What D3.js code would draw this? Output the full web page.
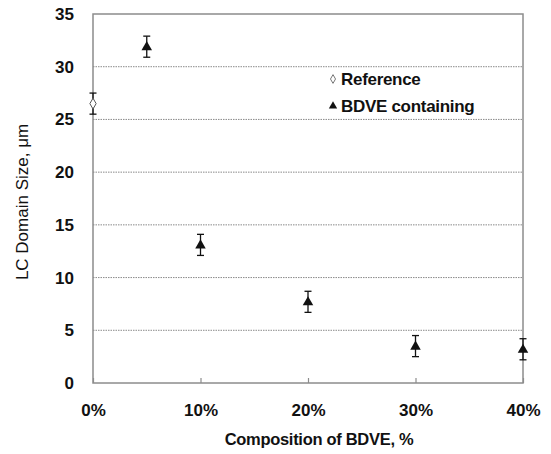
<!DOCTYPE html>
<html>
  <head>
    <meta charset="utf-8">
    <title>LC domain size vs BDVE composition</title>
    <script src="https://d3js.org/d3.v7.min.js"></script>
    <style>
      body { margin: 0; background: #fff; }
      svg { font-family: "Liberation Sans", Arial, sans-serif; }
      .tickLabel { font-size: 17px; font-weight: bold; fill: #111; }
      .axisTitle { font-size: 17px; fill: #111; }
      .legendLabel { font-size: 17px; font-weight: bold; fill: #111; letter-spacing: -0.3px; }
    </style>
  </head>
  <body>
    <svg id="chart" width="551" height="454"></svg>
    <script>
      // data
      var xTicks = [0, 10, 20, 30, 40];
      var yTicks = [0, 5, 10, 15, 20, 25, 30, 35];
      var refComp = [0];
      var refSize = [26.5];
      var refErr = [1.0];
      var bdveComp = [5, 10, 20, 30, 40];
      var bdveSize = [31.9, 13.1, 7.7, 3.5, 3.2];
      var bdveErr = [1.0, 1.0, 1.0, 1.0, 1.0];

      var margin = { top: 14, right: 28, bottom: 71, left: 93 };
      var width = 551, height = 454;
      var chart = d3.select("#chart");

      var x = d3.scaleLinear()
        .domain([0, 40])
        .range([margin.left, width - margin.right]);
      var y = d3.scaleLinear()
        .domain([0, 35])
        .range([height - margin.bottom, margin.top]);

      // gridlines
      chart.append("g")
        .selectAll("line")
        .data(yTicks.filter(function(d) { return d > 0 && d < 35; }))
        .enter().append("line")
          .attr("x1", x(0))
          .attr("x2", x(40))
          .attr("y1", function(d) { return y(d); })
          .attr("y2", function(d) { return y(d); })
          .style("stroke", "#8a8a8a")
          .style("stroke-width", 1)
          .style("stroke-dasharray", "1.5,1");

      // plot frame
      chart.append("rect")
        .attr("x", x(0))
        .attr("y", y(35))
        .attr("width", x(40) - x(0))
        .attr("height", y(0) - y(35))
        .style("fill", "none")
        .style("stroke", "#8c8c8c")
        .style("stroke-width", 1.5);

      // x axis
      var xAxis = d3.axisBottom(x)
        .tickValues(xTicks)
        .tickFormat(function(d) { return d + "%"; })
        .tickSizeInner(-5)
        .tickSizeOuter(0)
        .tickPadding(21);
      var xAxisGroup = chart.append("g")
        .attr("transform", "translate(0," + y(0) + ")")
        .call(xAxis);
      xAxisGroup.select(".domain").remove();
      xAxisGroup.selectAll(".tick line").style("stroke", "#8c8c8c").style("stroke-width", 1.2);
      xAxisGroup.selectAll(".tick text")
        .attr("class", "tickLabel")
        .attr("dy", "0.71em");

      // y axis
      var yAxis = d3.axisLeft(y)
        .tickValues(yTicks)
        .tickSizeInner(0)
        .tickSizeOuter(0)
        .tickPadding(19);
      var yAxisGroup = chart.append("g")
        .attr("transform", "translate(" + x(0) + ",0)")
        .call(yAxis);
      yAxisGroup.select(".domain").remove();
      yAxisGroup.selectAll(".tick text").attr("class", "tickLabel");

      // axis titles
      chart.append("text")
        .attr("class", "axisTitle")
        .attr("x", 319)
        .attr("y", 445)
        .attr("text-anchor", "middle")
        .style("font-weight", "bold")
        .style("font-size", "16.5px")
        .style("letter-spacing", "-0.3px")
        .text("Composition of BDVE, %");
      chart.append("text")
        .attr("class", "axisTitle")
        .attr("transform", "translate(28," + 202 + ") rotate(-90)")
        .attr("text-anchor", "middle")
        .text("LC Domain Size, μm");

      // error bars
      function errorBars(xs, ys, es) {
        var g = chart.append("g").style("stroke", "#111").style("stroke-width", 1.3);
        xs.forEach(function(d, i) {
          var cx = x(d);
          g.append("line")
            .attr("x1", cx).attr("x2", cx)
            .attr("y1", y(ys[i] + es[i])).attr("y2", y(ys[i] - es[i]));
          [ys[i] + es[i], ys[i] - es[i]].forEach(function(v) {
            g.append("line")
              .attr("x1", cx - 3.5).attr("x2", cx + 3.5)
              .attr("y1", y(v)).attr("y2", y(v));
          });
        });
      }
      errorBars(refComp, refSize, refErr);
      errorBars(bdveComp, bdveSize, bdveErr);

      var triangle = d3.symbol().type(d3.symbolTriangle).size(48);
      var diamond = d3.symbol().type(d3.symbolDiamond).size(34);

      chart.append("g")
        .selectAll("path")
        .data(refComp)
        .enter().append("path")
          .attr("d", diamond)
          .attr("transform", function(d, i) { return "translate(" + x(d) + "," + y(refSize[i]) + ")"; })
          .style("fill", "#fff")
          .style("stroke", "#555")
          .style("stroke-width", 1);

      chart.append("g")
        .selectAll("path")
        .data(bdveComp)
        .enter().append("path")
          .attr("d", triangle)
          .attr("transform", function(d, i) { return "translate(" + x(d) + "," + (y(bdveSize[i]) + 0.5) + ")"; })
          .style("fill", "#111");

      // legend
      var legend = chart.append("g");
      legend.append("path")
        .attr("d", d3.symbol().type(d3.symbolDiamond).size(22))
        .attr("transform", "translate(333,79)")
        .style("fill", "#fff")
        .style("stroke", "#777");
      legend.append("text")
        .attr("class", "legendLabel")
        .attr("x", 341)
        .attr("y", 85)
        .text("Reference");
      legend.append("path")
        .attr("d", d3.symbol().type(d3.symbolTriangle).size(30))
        .attr("transform", "translate(333,106)")
        .style("fill", "#111");
      legend.append("text")
        .attr("class", "legendLabel")
        .attr("x", 341)
        .attr("y", 112)
        .text("BDVE containing");
    </script>
  </body>
</html>
